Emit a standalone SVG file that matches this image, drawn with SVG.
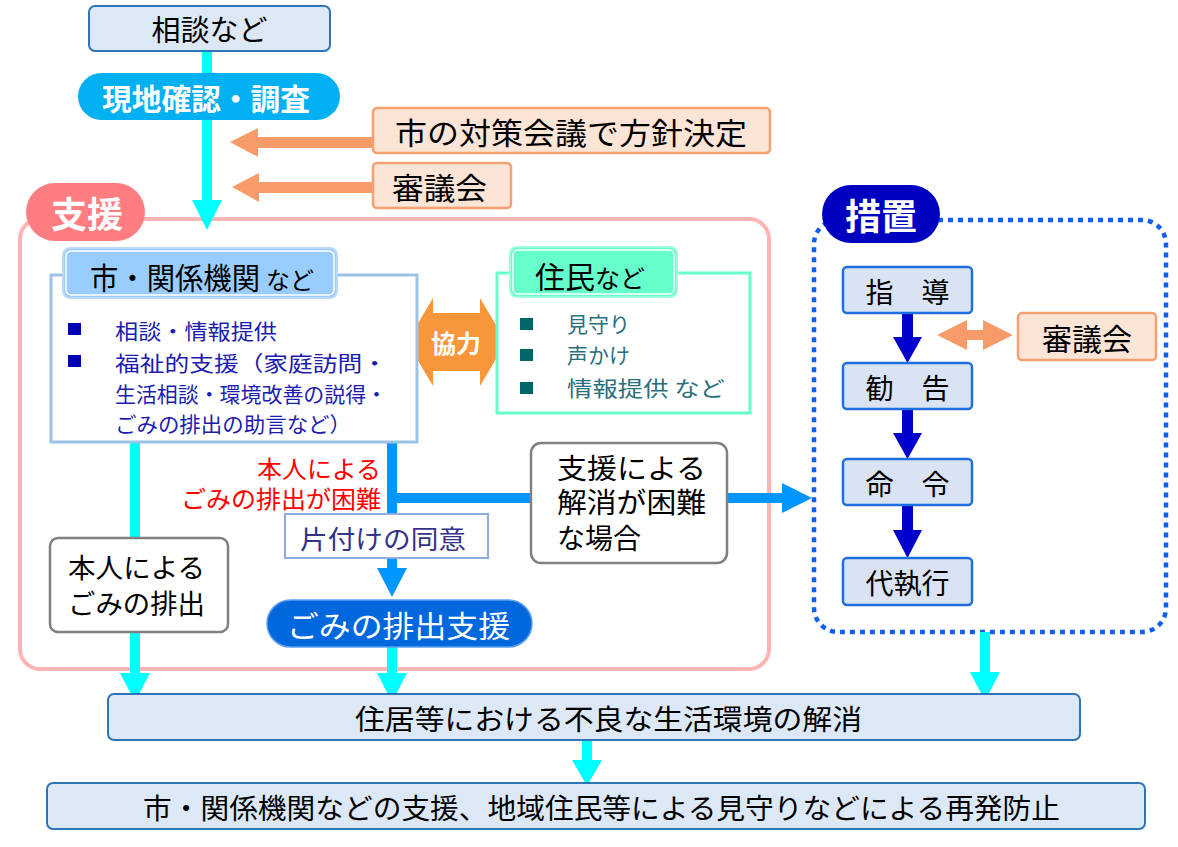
<svg xmlns="http://www.w3.org/2000/svg" width="1178" height="847" viewBox="0 0 1178 847">
<defs>
<style>
text{font-family:"Noto Sans CJK JP","Noto Sans CJK SC",sans-serif;dominant-baseline:central}
.lb{fill:#dde8f6;stroke:#2e75b6;stroke-width:2}
.or{fill:#fce4d6;stroke:#f4a070;stroke-width:2.5}
.sz{fill:#dae3f3;stroke:#1f6fe0;stroke-width:2.5}
.gb{fill:#fff;stroke:#808080;stroke-width:2.5}
.k{fill:#000}
.w{fill:#fff;font-weight:bold}
.bl{fill:#1c1cb0;font-size:21px}
.tl{fill:#2a6f80;font-size:21px}
</style>
</defs>

<g id="containers">
<rect id="shien-frame" x="20" y="219" width="749" height="450" rx="20" fill="none" stroke="#ffb3b3" stroke-width="4"/>
<rect id="sochi-frame" x="814" y="220" width="352" height="412" rx="24" fill="none" stroke="#1060f0" stroke-width="4.5" stroke-dasharray="5 5"/>
</g>

<g id="connectors">
<rect x="202" y="51" width="10" height="150" fill="#00ffff"/>
<polygon points="192,200 222,200 207,230" fill="#00ffff"/>
<rect x="256" y="137" width="118" height="11" fill="#f79b6b"/>
<polygon points="230,142 258,128 258,157" fill="#f79b6b"/>
<rect x="257" y="182" width="117" height="11" fill="#f79b6b"/>
<polygon points="232,187 259,173 259,202" fill="#f79b6b"/>
<rect x="130" y="442" width="10" height="232" fill="#00ffff"/>
<polygon points="120,673 150,673 135,702" fill="#00ffff"/>
<rect x="387" y="442" width="10" height="128" fill="#0096ff"/>
<rect x="387" y="493" width="145" height="10" fill="#0096ff"/>
<polygon points="377,568 407,568 392,597" fill="#0096ff"/>
<rect x="387" y="646" width="10" height="28" fill="#00ffff"/>
<polygon points="377,673 407,673 392,702" fill="#00ffff"/>
<rect x="726" y="493" width="58" height="10" fill="#0096ff"/>
<polygon points="782,483 782,513 812,498" fill="#0096ff"/>
<rect x="980" y="632" width="10" height="42" fill="#00ffff"/>
<polygon points="970,672 1000,672 985,701" fill="#00ffff"/>
<rect x="582" y="740" width="10" height="22" fill="#00ffff"/>
<polygon points="572,760 602,760 587,786" fill="#00ffff"/>
<rect x="902" y="312" width="11" height="27" fill="#0000cc"/>
<polygon points="893,337 922,337 907.5,363" fill="#0000cc"/>
<rect x="902" y="408" width="11" height="27" fill="#0000cc"/>
<polygon points="893,433 922,433 907.5,459" fill="#0000cc"/>
<rect x="902" y="504" width="11" height="28" fill="#0000cc"/>
<polygon points="893,530 922,530 907.5,558" fill="#0000cc"/>
<rect x="962" y="330" width="26" height="10" fill="#f79b6b"/>
<polygon points="937,335 967,320 967,350" fill="#f79b6b"/>
<polygon points="1013,335 983,320 983,350" fill="#f79b6b"/>
<polygon id="kyoryoku-arrow" points="407,342 433,298 433,313 480,313 480,298 506,342 480,386 480,371 433,371 433,386" fill="#f7963a"/>
</g>

<g id="soudan">
<rect class="lb" x="89" y="6" width="241" height="45" rx="6"/>
<text class="k" x="209.5" y="28" font-size="29" text-anchor="middle">相談など</text>
</g>

<g id="genchi">
<rect x="78" y="73" width="262" height="47" rx="23.5" fill="#00b0f0"/>
<text class="w" x="102" y="97" font-size="30" textLength="208" lengthAdjust="spacingAndGlyphs">現地確認・調査</text>
</g>

<g id="taisaku">
<rect class="or" x="373" y="108" width="397" height="45" rx="4"/>
<text class="k" x="395" y="131" font-size="30" textLength="352" lengthAdjust="spacingAndGlyphs">市の対策会議で方針決定</text>
</g>

<g id="shingikai-top">
<rect class="or" x="373" y="163" width="138" height="45" rx="4"/>
<text class="k" x="392" y="186" font-size="30" textLength="95" lengthAdjust="spacingAndGlyphs">審議会</text>
</g>

<g id="shien-label">
<rect x="26" y="183" width="119" height="58" rx="29" fill="#ff7c80"/>
<text class="w" x="87" y="212" font-size="36" text-anchor="middle">支援</text>
</g>

<g id="sochi-label">
<rect x="822" y="185" width="118" height="58" rx="29" fill="#0000c0"/>
<text class="w" x="881" y="214" font-size="36" text-anchor="middle">措置</text>
</g>

<g id="kikan">
<rect x="51" y="275" width="366" height="167" fill="#fff" stroke="#9dc3e6" stroke-width="3"/>
<rect x="63" y="248" width="274" height="50" rx="7" fill="#99ccff" stroke="#bcd9f5" stroke-width="2"/>
<rect x="66" y="251" width="268" height="44" rx="5" fill="none" stroke="#fff" stroke-width="1.5"/>
<text class="k" x="90" y="276" font-size="30" textLength="170" lengthAdjust="spacingAndGlyphs">市・関係機関</text>
<text class="k" x="266" y="278" font-size="24" textLength="48" lengthAdjust="spacingAndGlyphs">など</text>
<rect x="68" y="323" width="13" height="12" fill="#0000b0"/>
<rect x="68" y="355" width="13" height="12" fill="#0000b0"/>
<text class="bl" x="115" y="330" textLength="162" lengthAdjust="spacingAndGlyphs">相談・情報提供</text>
<text class="bl" x="115" y="362" textLength="272" lengthAdjust="spacingAndGlyphs">福祉的支援（家庭訪問・</text>
<text class="bl" x="115" y="393" textLength="272" lengthAdjust="spacingAndGlyphs">生活相談・環境改善の説得・</text>
<text class="bl" x="115" y="423" textLength="236" lengthAdjust="spacingAndGlyphs">ごみの排出の助言など）</text>
</g>

<g id="kyoryoku">
<text class="w" x="456" y="342" font-size="25" text-anchor="middle">協力</text>
</g>

<g id="jumin">
<rect x="497" y="273" width="253" height="140" fill="#fff" stroke="#66ffcc" stroke-width="3"/>
<rect x="510" y="247" width="167" height="50" rx="7" fill="#66ffcc" stroke="#99ffdd" stroke-width="2"/>
<rect x="513" y="250" width="161" height="44" rx="5" fill="none" stroke="#fff" stroke-width="1.5"/>
<text class="k" x="535" y="275" font-size="30">住民<tspan font-size="25" dy="2">など</tspan></text>
<rect x="520" y="318" width="13" height="12" fill="#006666"/>
<rect x="520" y="349" width="13" height="12" fill="#006666"/>
<rect x="520" y="382" width="13" height="12" fill="#006666"/>
<text class="tl" x="567" y="323">見守り</text>
<text class="tl" x="567" y="354">声かけ</text>
<text class="tl" x="567" y="387" textLength="158" lengthAdjust="spacingAndGlyphs">情報提供 など</text>
</g>

<g id="konnan-label">
<text font-size="24" fill="#ff0000"><tspan x="257" y="467" textLength="124" lengthAdjust="spacingAndGlyphs">本人による</tspan><tspan x="181" y="497" textLength="200" lengthAdjust="spacingAndGlyphs">ごみの排出が困難</tspan></text>
</g>

<g id="honnin">
<rect class="gb" x="50" y="538" width="178" height="94" rx="8"/>
<text class="k" font-size="27"><tspan x="68" y="566" textLength="137" lengthAdjust="spacingAndGlyphs">本人による</tspan><tspan x="68" y="602" textLength="137" lengthAdjust="spacingAndGlyphs">ごみの排出</tspan></text>
</g>

<g id="katazuke">
<rect x="285" y="514" width="203" height="44" fill="#fff" stroke="#8faadc" stroke-width="2"/>
<text x="300" y="537" font-size="26" fill="#333388" textLength="166" lengthAdjust="spacingAndGlyphs">片付けの同意</text>
</g>

<g id="gomi-shien">
<rect x="267" y="600" width="265" height="47" rx="23.5" fill="#0068dc" stroke="#5aa0f0" stroke-width="1.5"/>
<text x="287" y="624" font-size="30" fill="#fff" textLength="223" lengthAdjust="spacingAndGlyphs">ごみの排出支援</text>
</g>

<g id="konnan-box">
<rect class="gb" x="531" y="443" width="196" height="120" rx="10"/>
<text class="k" font-size="28"><tspan x="557" y="467" textLength="149" lengthAdjust="spacingAndGlyphs">支援による</tspan><tspan x="557" y="501" textLength="149" lengthAdjust="spacingAndGlyphs">解消が困難</tspan><tspan x="557" y="537">な場合</tspan></text>
</g>

<g id="shido">
<rect class="sz" x="843" y="267" width="129" height="46" rx="4"/>
<text class="k" x="907.5" y="291" font-size="28" text-anchor="middle">指　導</text>
</g>
<g id="kankoku">
<rect class="sz" x="843" y="363" width="129" height="46" rx="4"/>
<text class="k" x="907.5" y="387" font-size="28" text-anchor="middle">勧　告</text>
</g>
<g id="meirei">
<rect class="sz" x="843" y="459" width="129" height="46" rx="4"/>
<text class="k" x="907.5" y="483" font-size="28" text-anchor="middle">命　令</text>
</g>
<g id="daishikko">
<rect class="sz" x="843" y="558" width="129" height="47" rx="4"/>
<text class="k" x="907.5" y="582" font-size="28" text-anchor="middle">代執行</text>
</g>

<g id="shingikai-right">
<rect class="or" x="1018" y="313" width="138" height="47" rx="4" stroke-width="3"/>
<text class="k" x="1087" y="337" font-size="30" text-anchor="middle">審議会</text>
</g>

<g id="kaisho">
<rect class="lb" x="108" y="694" width="972" height="46" rx="6"/>
<text class="k" x="355" y="718" font-size="28" textLength="507" lengthAdjust="spacingAndGlyphs">住居等における不良な生活環境の解消</text>
</g>

<g id="saihatsu">
<rect class="lb" x="47" y="783" width="1098" height="46" rx="6"/>
<text class="k" x="143" y="807" font-size="28" textLength="917" lengthAdjust="spacingAndGlyphs">市・関係機関などの支援、地域住民等による見守りなどによる再発防止</text>
</g>
</svg>
